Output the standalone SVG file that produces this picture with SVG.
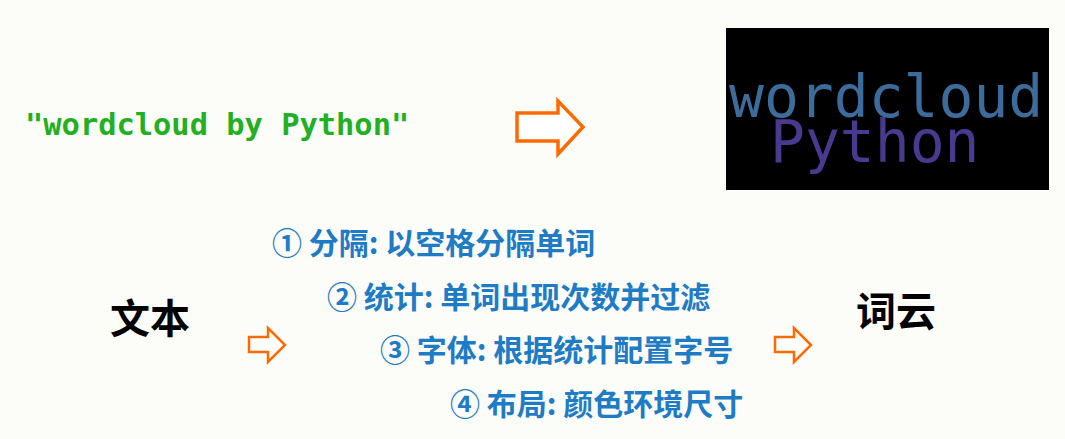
<svg xmlns="http://www.w3.org/2000/svg" width="1065" height="439" viewBox="0 0 1065 439">
<style>
.code{font-family:"DejaVu Sans Mono","Liberation Mono",monospace;font-weight:bold;font-size:30.4px;fill:#22b022}
.cloud{font-family:"DejaVu Sans Mono","Liberation Mono",monospace;font-size:58px}
.big{font-family:"Noto Sans CJK SC",sans-serif;font-weight:bold;font-size:40px;fill:#000}
.step{font-family:"Noto Sans CJK SC",sans-serif;font-weight:bold;font-size:30px;fill:#1e7bc6}
.arrow{fill:#fff;stroke:#ff6a00;stroke-linejoin:miter}
</style>
<rect width="1065" height="439" fill="#fcfcf8"/>
<g id="input-text">
<text class="code" x="25" y="135">"wordcloud by Python"</text>
</g>
<g id="wordcloud-image">
<rect x="726" y="28" width="323" height="162" fill="#000"/>
<text class="cloud" x="729" y="117" fill="#3b6c9c" font-size="58.5">wordcloud</text>
<text class="cloud" x="770" y="162" fill="#4a3a8f" font-size="56">Python</text>
</g>
<g id="source">
<text class="big" x="110" y="333">文本</text>
</g>
<g id="steps">
<text class="step" x="272" y="254">① 分隔: 以空格分隔单词</text>
<text class="step" x="327" y="308">② 统计: 单词出现次数并过滤</text>
<text class="step" x="380" y="361">③ 字体: 根据统计配置字号</text>
<text class="step" x="450" y="415">④ 布局: 颜色环境尺寸</text>
</g>
<g id="result">
<text class="big" x="856" y="326">词云</text>
</g>
<g id="connectors">
<path class="arrow" stroke-width="3.5" d="M517,113 H558 V101 L583,127 L558,154 V141 H517 Z"/>
<path class="arrow" stroke-width="2.5" d="M249,337 H268 V328 L285,345 L268,362 V352 H249 Z"/>
<path class="arrow" stroke-width="2.5" d="M775,337 H794 V328 L811,345 L794,362 V352 H775 Z"/>
</g>
</svg>
